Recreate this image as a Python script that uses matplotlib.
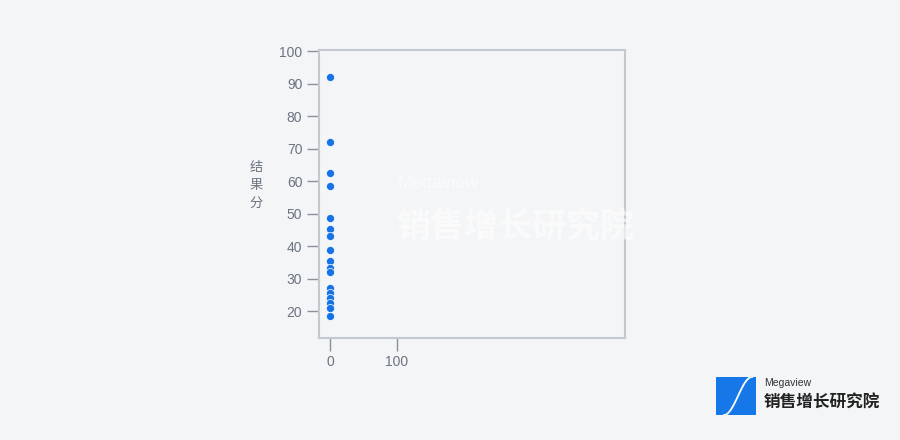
import matplotlib
matplotlib.use("Agg")
import matplotlib.pyplot as plt
import numpy as np
from matplotlib.patches import Rectangle

plt.rcParams['font.family'] = ['Liberation Sans', 'Noto Sans CJK SC', 'DejaVu Sans']

# Data
x_vals = [0, 0, 0, 0, 0, 0, 0, 0, 0, 0, 0, 0, 0, 0, 0, 0, 0]
y_vals = [92, 72, 62.4, 58.5, 48.8, 45.4, 43.0, 38.9, 35.6, 33.3, 32.0,
          27.2, 25.7, 24.2, 22.7, 21.0, 18.5]
y_ticks = [20, 30, 40, 50, 60, 70, 80, 90, 100]
x_ticks = [0, 100]
y_label = "结\n果\n分"

bg = "#f3f5f7"
fig = plt.figure(figsize=(9, 4.4), dpi=100, facecolor=bg)
ax = fig.add_axes([0.3544, 0.2318, 0.34, 0.6545], facecolor=bg)

ax.scatter(x_vals, y_vals, s=34, color="#1673e6", edgecolor="white", linewidth=0.5, zorder=3)

ax.set_xlim(-16.4, 440)
ax.set_ylim(11.8, 100.3)
ax.set_yticks(y_ticks)
ax.set_xticks(x_ticks)
for s in ax.spines.values():
    s.set_color("#c3c9cf")
    s.set_linewidth(1.5)
ax.tick_params(axis='both', colors="#8a929b", length=9, width=1, labelsize=10,
               labelcolor="#6b7480", pad=3)
ax.set_ylabel(y_label, rotation=0, color="#6b7480", fontsize=9.5,
              va='center', linespacing=1.5, family=['Noto Sans CJK SC', 'DejaVu Sans'])
ax.yaxis.set_label_coords(-0.205, 0.53)

# watermark
fig.text(0.442, 0.572, "Megaview", color="white", alpha=0.6, fontsize=13)
fig.text(0.440, 0.462, "销售增长研究院", color="white", alpha=0.6, fontsize=24.5,
         fontweight='bold', family=['Noto Sans CJK SC', 'DejaVu Sans'])

# logo
lax = fig.add_axes([716/900, 1 - 415/440, 40/900, 38/440])
lax.set_xlim(0, 1); lax.set_ylim(0, 1)
lax.add_patch(Rectangle((0, 0), 1, 1, color="#1677e8"))
t = np.linspace(0, 1, 50)
lax.plot(0.2 + 0.7 * t, 0.5 - 0.5 * np.cos(np.pi * t), color="white", lw=1.3)
lax.axis('off')
fig.text(764/900, 1 - 383/440, "Megaview", fontsize=7.5, color="#333333", va='center')
fig.text(764/900, 1 - 403/440, "销售增长研究院", fontsize=12, color="#222222",
         fontweight='bold', va='center', family=['Noto Sans CJK SC', 'DejaVu Sans'])

fig.savefig("out.png", dpi=100, facecolor=bg)
